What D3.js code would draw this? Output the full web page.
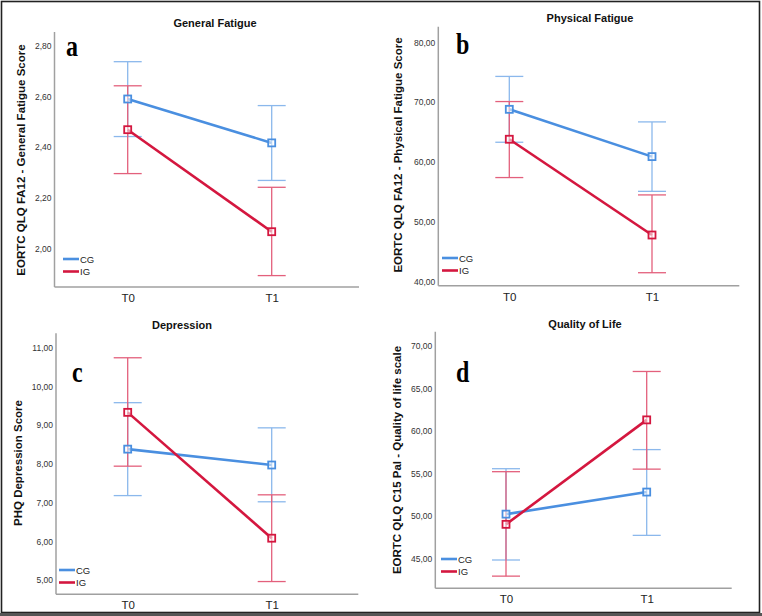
<!DOCTYPE html>
<html>
<head>
<meta charset="utf-8">
<script src="https://cdn.jsdelivr.net/npm/d3@7"></script>
<style>
  html, body { margin: 0; padding: 0; background: #fff; }
  svg { display: block; }
</style>
</head>
<body>
<svg id="chart" width="762" height="616"></svg>
<script>
// ---------- DATA ----------
const timepoints = ["T0", "T1"];
const groups = ["CG", "IG"];

// Panel a: General Fatigue
const genFatigueTicks = [2.0, 2.2, 2.4, 2.6, 2.8];
const genFatigueCG = [2.59, 2.417];
const genFatigueCGLow = [2.442, 2.269];
const genFatigueCGHigh = [2.737, 2.564];
const genFatigueIG = [2.469, 2.067];
const genFatigueIGLow = [2.296, 1.894];
const genFatigueIGHigh = [2.642, 2.242];

// Panel b: Physical Fatigue
const physFatigueTicks = [40, 50, 60, 70, 80];
const physFatigueCG = [68.8, 60.9];
const physFatigueCGLow = [63.3, 55.1];
const physFatigueCGHigh = [74.3, 66.7];
const physFatigueIG = [63.8, 47.8];
const physFatigueIGLow = [57.4, 41.5];
const physFatigueIGHigh = [70.1, 54.5];

// Panel c: Depression
const depressionTicks = [5, 6, 7, 8, 9, 10, 11];
const depressionCG = [8.38, 7.97];
const depressionCGLow = [7.18, 7.02];
const depressionCGHigh = [9.58, 8.93];
const depressionIG = [9.33, 6.08];
const depressionIGLow = [7.94, 4.96];
const depressionIGHigh = [10.74, 7.20];

// Panel d: Quality of Life
const qolTicks = [45, 50, 55, 60, 65, 70];
const qolCG = [50.2, 52.8];
const qolCGLow = [44.8, 47.7];
const qolCGHigh = [55.55, 57.8];
const qolIG = [49.0, 61.3];
const qolIGLow = [42.9, 55.5];
const qolIGHigh = [55.2, 67.0];

const titles = ["General Fatigue", "Physical Fatigue", "Depression", "Quality of Life"];
const yLabels = [
  "EORTC QLQ FA12 - General Fatigue Score",
  "EORTC QLQ FA12 - Physical Fatigue Score",
  "PHQ Depression Score",
  "EORTC QLQ C15 Pal - Quality of life scale"
];
const letters = ["a", "b", "c", "d"];

// ---------- LAYOUT ----------
const colors = { CG: "#4a8fe0", IG: "#d4173f" };
const barColors = { CG: "#8bb8ec", IG: "#e3607c" };

const panels = [
  { ticks: genFatigueTicks,
    series: { CG: [genFatigueCG, genFatigueCGLow, genFatigueCGHigh], IG: [genFatigueIG, genFatigueIGLow, genFatigueIGHigh] },
    axX: 54.5, axBottom: 287, axTop: 32, axRight: 359, tickPx: [248.7, 45.7], xPos: [127.7, 271.7],
    titleX: 215, titleY: 27, labelX: 21, labelY: 160, letterX: 66, letterY: 56, legendX: 63, legendY: 259 },
  { ticks: physFatigueTicks,
    series: { CG: [physFatigueCG, physFatigueCGLow, physFatigueCGHigh], IG: [physFatigueIG, physFatigueIGLow, physFatigueIGHigh] },
    axX: 438.3, axBottom: 285.7, axTop: 26.7, axRight: 739.3, tickPx: [281.7, 42.3], xPos: [509.3, 652],
    titleX: 590, titleY: 22, labelX: 398, labelY: 155, letterX: 456, letterY: 54, legendX: 442, legendY: 258 },
  { ticks: depressionTicks,
    series: { CG: [depressionCG, depressionCGLow, depressionCGHigh], IG: [depressionIG, depressionIGLow, depressionIGHigh] },
    axX: 56, axBottom: 594.3, axTop: 333.3, axRight: 358.3, tickPx: [580, 347.7], xPos: [127.7, 271.7],
    titleX: 182, titleY: 329, labelX: 18, labelY: 463, letterX: 72, letterY: 382, legendX: 59, legendY: 570 },
  { ticks: qolTicks,
    series: { CG: [qolCG, qolCGLow, qolCGHigh], IG: [qolIG, qolIGLow, qolIGHigh] },
    axX: 435.3, axBottom: 588.3, axTop: 331.7, axRight: 731.7, tickPx: [558.3, 346], xPos: [506, 646.7],
    titleX: 585, titleY: 328, labelX: 397, labelY: 460, letterX: 456, letterY: 382, legendX: 441, legendY: 559 }
];

const svg = d3.select("#chart");
const FONT = "'Liberation Sans', Arial, sans-serif";

// Figure border
svg.append("rect").attr("x", 1.5).attr("y", 1.5).attr("width", 758).attr("height", 611)
  .attr("fill", "none").attr("stroke", "#222").attr("stroke-width", 1.6);
svg.append("line").attr("x1", 0).attr("x2", 762).attr("y1", 614.5).attr("y2", 614.5)
  .attr("stroke", "#555").attr("stroke-width", 3);

const fmtComma = d3.format(".2f");

panels.forEach((p, i) => {
  const g = svg.append("g");
  const y = d3.scaleLinear().domain([p.ticks[0], p.ticks[p.ticks.length - 1]]).range(p.tickPx);
  const x = d3.scalePoint().domain(timepoints).range(p.xPos);

  // axes lines
  g.append("line").attr("x1", p.axX).attr("x2", p.axX).attr("y1", p.axTop).attr("y2", p.axBottom)
    .attr("stroke", "#a0a0a0").attr("stroke-width", 1.5);
  g.append("line").attr("x1", p.axX).attr("x2", p.axRight).attr("y1", p.axBottom).attr("y2", p.axBottom)
    .attr("stroke", "#a0a0a0").attr("stroke-width", 1.5);

  // y ticks via d3 axis (no tick lines)
  const yAxis = d3.axisLeft(y).tickValues(p.ticks).tickSize(0).tickPadding(3)
    .tickFormat(d => fmtComma(d).replace(".", ","));
  const ya = g.append("g").attr("transform", `translate(${p.axX},0)`).call(yAxis);
  ya.select(".domain").remove();
  ya.selectAll("text").attr("font-family", FONT).attr("font-size", 8.5).attr("fill", "#333");

  // x axis labels
  const xAxis = d3.axisBottom(x).tickSize(0).tickPadding(7);
  const xa = g.append("g").attr("transform", `translate(0,${p.axBottom})`).call(xAxis);
  xa.select(".domain").remove();
  xa.selectAll("text").attr("font-family", FONT).attr("font-size", 11.5).attr("fill", "#222");

  // title
  g.append("text").attr("x", p.titleX).attr("y", p.titleY).attr("text-anchor", "middle")
    .attr("font-family", FONT).attr("font-size", 11).attr("font-weight", "bold").attr("fill", "#111")
    .text(titles[i]);

  // y label
  g.append("text").attr("transform", `translate(${p.labelX + 4},${p.labelY}) rotate(-90)`)
    .attr("text-anchor", "middle").attr("font-family", FONT).attr("font-size", 11.5)
    .attr("font-weight", "bold").attr("fill", "#111").text(yLabels[i]);

  // letter
  g.append("text").attr("transform", `translate(${p.letterX},${p.letterY}) scale(1,1.2)`)
    .attr("font-family", "'Liberation Serif', 'Times New Roman', serif").attr("font-size", 24)
    .attr("font-weight", "bold").attr("fill", "#000").text(letters[i]);

  // error bars
  groups.forEach(gr => {
    const [mean, lo, hi] = p.series[gr];
    timepoints.forEach((t, k) => {
      const cx = x(t);
      const eb = g.append("g").attr("stroke", barColors[gr]).attr("stroke-width", 1.3).attr("fill", "none");
      eb.append("line").attr("x1", cx).attr("x2", cx).attr("y1", y(lo[k])).attr("y2", y(hi[k]));
      eb.append("line").attr("x1", cx - 14).attr("x2", cx + 14).attr("y1", y(lo[k])).attr("y2", y(lo[k]));
      eb.append("line").attr("x1", cx - 14).attr("x2", cx + 14).attr("y1", y(hi[k])).attr("y2", y(hi[k]));
    });
  });

  // lines + markers
  groups.forEach(gr => {
    const mean = p.series[gr][0];
    const line = d3.line().x((d, k) => x(timepoints[k])).y(d => y(d));
    g.append("path").datum(mean).attr("d", line).attr("fill", "none")
      .attr("stroke", colors[gr]).attr("stroke-width", 2.6);
  });
  groups.forEach(gr => {
    const mean = p.series[gr][0];
    g.selectAll(null).data(mean).enter().append("rect")
      .attr("x", (d, k) => x(timepoints[k]) - 3.5).attr("y", d => y(d) - 3.5)
      .attr("width", 7).attr("height", 7)
      .attr("fill", "#fff").attr("fill-opacity", 0.55)
      .attr("stroke", colors[gr]).attr("stroke-width", 1.8);
  });

  // legend
  groups.forEach((gr, k) => {
    const ly = p.legendY + k * 12.5;
    g.append("line").attr("x1", p.legendX).attr("x2", p.legendX + 16).attr("y1", ly).attr("y2", ly)
      .attr("stroke", colors[gr]).attr("stroke-width", 2.6);
    g.append("text").attr("x", p.legendX + 17).attr("y", ly + 3.5)
      .attr("font-family", FONT).attr("font-size", 9.5).attr("fill", "#222").text(gr);
  });
});
</script>
</body>
</html>
